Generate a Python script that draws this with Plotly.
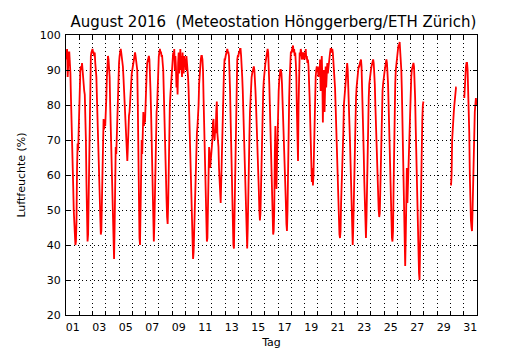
import plotly.graph_objects as go
import pandas as pd

# Hourly relative humidity (%) per day, August 2016
aug01 = [93, 95, 96, 88, 94, 95, 95, 93, 89, 82, 77, 72, 63, 57, 50, 46, 42, 40, 41, 47, 62, 69, 67, 73]
aug02 = [80, 86, 90, 91, 90, 92, 89, 86, 85, 84, 83, 78, 70, 58, 45, 41, 43, 52, 65, 80, 90, 94, 95, 96]
aug03 = [96, 95, 95, 94, 95, 92, 90, 88, 82, 76, 72, 66, 60, 52, 46, 43, 44, 55, 68, 74, 76, 73, 75, 74]
aug04 = [77, 82, 88, 92, 94, 93, 91, 88, 80, 73, 68, 63, 58, 48, 40, 36, 45, 60, 68, 66, 72, 82, 88, 92]
aug05 = [92, 94, 95, 96, 95, 94, 93, 91, 88, 84, 80, 76, 74, 70, 66, 64, 68, 75, 77, 78, 82, 84, 86, 89]
aug06 = [90, 91, 92, 94, 95, 95, 94, 93, 92, 90, 80, 64, 50, 42, 40, 48, 62, 70, 66, 76, 78, 74, 76, 75]
aug07 = [82, 86, 89, 92, 93, 94, 94, 93, 90, 84, 78, 68, 60, 54, 48, 41, 46, 58, 65, 76, 78, 80, 86, 92]
aug08 = [94, 95, 96, 95, 95, 94, 94, 92, 90, 84, 76, 70, 64, 58, 53, 48, 46, 52, 64, 74, 80, 83, 86, 89]
aug09 = [90, 92, 95, 94, 96, 90, 94, 91, 85, 88, 83, 92, 95, 89, 93, 96, 90, 94, 88, 95, 92, 89, 94, 91]
aug10 = [93, 90, 94, 92, 91, 88, 84, 80, 72, 66, 60, 54, 46, 40, 36, 38, 44, 52, 60, 66, 70, 72, 74, 76]
aug11 = [80, 86, 90, 92, 93, 94, 94, 93, 90, 82, 74, 64, 56, 50, 45, 41, 42, 52, 62, 68, 66, 62, 64, 66]
aug12 = [66, 70, 75, 76, 72, 70, 73, 72, 78, 81, 72, 70, 68, 62, 58, 54, 52, 58, 66, 72, 78, 84, 90, 93]
aug13 = [93, 94, 95, 95, 96, 95, 95, 94, 90, 84, 76, 68, 60, 52, 44, 40, 39, 48, 64, 76, 84, 90, 93, 94]
aug14 = [94, 95, 95, 96, 96, 94, 92, 88, 84, 78, 72, 66, 60, 54, 48, 42, 39, 45, 60, 65, 71, 78, 83, 87]
aug15 = [88, 89, 90, 90, 91, 90, 88, 84, 80, 76, 72, 68, 62, 56, 50, 47, 49, 58, 68, 75, 80, 84, 87, 90]
aug16 = [91, 92, 93, 94, 95, 96, 95, 92, 86, 80, 72, 64, 58, 52, 46, 43, 44, 50, 66, 74, 62, 56, 64, 74]
aug17 = [80, 84, 87, 89, 90, 90, 89, 86, 80, 74, 68, 64, 60, 56, 52, 46, 44, 50, 66, 76, 82, 88, 93, 95]
aug18 = [95, 96, 96, 97, 95, 96, 94, 95, 92, 88, 78, 68, 64, 80, 93, 95, 94, 96, 95, 93, 94, 95, 94, 93]
aug19 = [95, 94, 96, 93, 94, 92, 93, 91, 88, 82, 76, 70, 64, 58, 62, 57, 60, 70, 80, 86, 88, 90, 91, 90]
aug20 = [90, 88, 91, 89, 93, 84, 92, 94, 88, 75, 86, 90, 78, 87, 91, 85, 88, 92, 89, 91, 93, 94, 95, 96]
aug21 = [96, 95, 96, 95, 93, 90, 88, 85, 80, 74, 66, 60, 54, 48, 45, 43, 42, 44, 52, 56, 60, 64, 72, 80]
aug22 = [82, 85, 88, 90, 91, 92, 90, 86, 80, 76, 70, 64, 57, 50, 42, 40, 45, 55, 65, 72, 78, 82, 85, 88]
aug23 = [89, 90, 91, 91, 92, 93, 93, 91, 86, 80, 74, 66, 58, 50, 43, 42, 48, 60, 70, 78, 82, 86, 88, 89]
aug24 = [90, 91, 92, 92, 93, 92, 90, 86, 80, 74, 68, 62, 58, 54, 50, 48, 49, 56, 66, 74, 80, 84, 86, 88]
aug25 = [89, 90, 91, 92, 93, 92, 90, 86, 80, 72, 64, 58, 52, 46, 42, 41, 44, 56, 70, 80, 86, 90, 92, 94]
aug26 = [95, 96, 97, 97, 98, 96, 94, 90, 84, 76, 66, 56, 48, 40, 34, 42, 56, 62, 52, 58, 62, 68, 75, 82]
aug27 = [86, 88, 90, 91, 92, 92, 91, 88, 82, 74, 66, 58, 50, 42, 36, 32, 30, 40, 55, 64, 70, 76, 80, 81]
aug28 = [None] * 24
aug29 = [None] * 24
aug30 = [None, 57, 60, 70, 74, 77, 78, 80, 82, 84, 85, 85,
         None, None, None, None, None, None, None, None, None, None, None, None]
aug31 = [None, 82, 86, 90, 91, 92, 92, 90, 85, 78, 72, 60, 50, 47, 45, 44, 50, 60, 66, 72, 78, 80, 82, 80]

day_labels = ["01", "03", "05", "07", "09", "11", "13", "15", "17", "19", "21", "23", "25", "27", "29", "31"]
y_ticks = [20, 30, 40, 50, 60, 70, 80, 90, 100]

days = [aug01, aug02, aug03, aug04, aug05, aug06, aug07, aug08, aug09, aug10,
        aug11, aug12, aug13, aug14, aug15, aug16, aug17, aug18, aug19, aug20,
        aug21, aug22, aug23, aug24, aug25, aug26, aug27, aug28, aug29, aug30, aug31]
values = [v for d in days for v in d]
times = pd.date_range("2016-08-01", periods=len(values), freq="h")
midnights = pd.date_range("2016-08-02", "2016-08-31", freq="D")
label_pos = [pd.Timestamp(f"2016-08-{d} 12:00") for d in day_labels]

fig = go.Figure()
fig.add_trace(go.Scatter(x=times, y=values, mode="lines",
                         line=dict(color="#ff0000", width=1.8),
                         connectgaps=False, showlegend=False, xaxis="x", yaxis="y"))
# invisible helper trace so the label axis is drawn
fig.add_trace(go.Scatter(x=[times[0]], y=[None], mode="lines", showlegend=False,
                         hoverinfo="skip", xaxis="x2", yaxis="y"))

# page body has an 8px margin, so the figure is 8px smaller than the window
W, H = 522, 342
grid_dash = "1px,3px"
x_range = ["2016-08-01", "2016-09-01"]
fig.update_layout(
    width=W, height=H,
    margin=dict(l=58, r=53, t=27, b=35, autoexpand=False),
    paper_bgcolor="white", plot_bgcolor="white",
    font=dict(family="DejaVu Sans", color="black", size=11),
    title=dict(text="August 2016  (Meteostation Hönggerberg/ETH Zürich)",
               x=(58 + 411 / 2) / W, xanchor="center", xref="paper",
               y=1 - 14 / H, yanchor="middle", yref="container",
               font=dict(size=15, color="black")),
    xaxis=dict(
        type="date", range=x_range, automargin=False,
        tickmode="array", tickvals=list(midnights),
        ticks="inside", ticklen=4, tickcolor="black", tickwidth=1,
        showticklabels=False,
        showgrid=True, gridcolor="black", gridwidth=1, griddash=grid_dash,
        zeroline=False, showline=True, linecolor="black", linewidth=1, mirror="ticks",
    ),
    xaxis2=dict(
        type="date", range=x_range, overlaying="x", side="bottom", automargin=False,
        tickmode="array", tickvals=label_pos, ticktext=day_labels,
        ticks="", showgrid=False, zeroline=False, showline=False,
        tickfont=dict(size=11), ticklabelstandoff=4,
        title=dict(text="Tag", font=dict(size=11), standoff=5),
    ),
    yaxis=dict(
        range=[20, 100], tickmode="array", tickvals=y_ticks, automargin=False,
        ticks="inside", ticklen=4, tickcolor="black",
        showgrid=True, gridcolor="black", gridwidth=1, griddash=grid_dash,
        zeroline=False, showline=True, linecolor="black", linewidth=1, mirror="ticks",
        tickfont=dict(size=11), ticklabelstandoff=2,
        title=dict(text="Luftfeuchte (%)", font=dict(size=11), standoff=11),
    ),
)

fig.write_html("out.html")
